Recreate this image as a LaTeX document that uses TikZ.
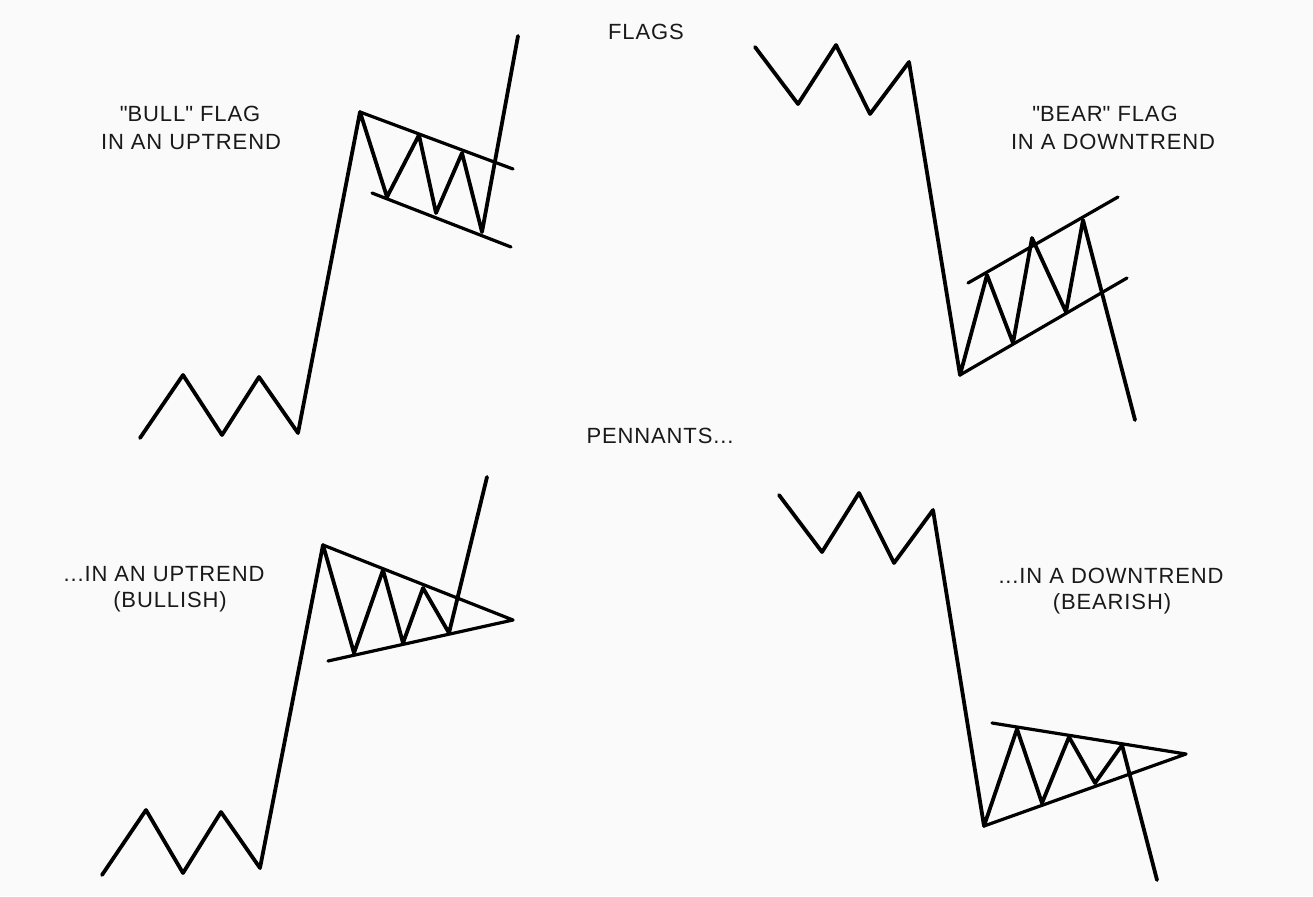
\documentclass[tikz,border=0pt]{standalone}
\usepackage{fontspec}
\setmainfont{Liberation Sans}[LetterSpace=4]
\newcommand{\dq}{\XeTeXglyph\XeTeXcharglyph"0022\relax}
\begin{document}
\begin{tikzpicture}[x=1pt,y=-1pt,
  price/.style={line width=3.8pt,line join=round,line cap=round,black},
  bound/.style={line width=3.2pt,line cap=round,black},
  lbl/.style={anchor=base,inner sep=0pt,font=\fontsize{22}{29}\selectfont,text=black!90}]
\fill[white!98!black] (0,0) rectangle (1313,896);
\useasboundingbox (0,0) rectangle (1313,896);

% titles
\node[lbl] (flags) at (646,40) {FLAGS};
\node[lbl] (pennants) at (660,443) {PENNANTS...};

% bull flag
\node[lbl] (bull1) at (190,122) {\dq BULL\dq\ FLAG};
\node[lbl] (bull2) at (191,150) {IN AN UPTREND};
\draw[price] (140,438) -- (183,375) -- (222,435) -- (259,377) -- (298,433)
  -- (360,112) -- (387,197) -- (419,135) -- (436,213) -- (462,153) -- (482,232) -- (518,36);
\draw[bound] (360,112) -- (513,169);
\draw[bound] (372,193) -- (511,247);

% bear flag
\node[lbl] (bear1) at (1105,122) {\dq BEAR\dq\ FLAG};
\node[lbl] (bear2) at (1113,150) {IN A DOWNTREND};
\draw[price] (755,47) -- (798,104) -- (836,45) -- (870,114) -- (909,62)
  -- (960,375) -- (987,275) -- (1013,343) -- (1032,238) -- (1066,312) -- (1083,220) -- (1135,420);
\draw[bound] (968,283) -- (1118,197);
\draw[bound] (960,375) -- (1127,278);

% bullish pennant
\node[lbl] (bullp1) at (164,581) {...IN AN UPTREND};
\node[lbl] (bullp2) at (170,607) {(BULLISH)};
\draw[price] (102,875) -- (146,810) -- (183,873) -- (221,812) -- (260,868)
  -- (323,545) -- (354,653) -- (383,570) -- (403,643) -- (423,588) -- (449,633) -- (487,477);
\draw[bound,line join=round] (323,545) -- (513,620) -- (328,661);

% bearish pennant
\node[lbl] (bearp1) at (1111,583) {...IN A DOWNTREND};
\node[lbl] (bearp2) at (1112,609) {(BEARISH)};
\draw[price] (779,495) -- (822,552) -- (859,493) -- (894,563) -- (933,510)
  -- (984,826) -- (1017,729) -- (1042,803) -- (1069,737) -- (1095,783) -- (1122,745) -- (1157,880);
\draw[bound,line join=round] (992,723) -- (1186,754) -- (984,826);
\end{tikzpicture}
\end{document}
